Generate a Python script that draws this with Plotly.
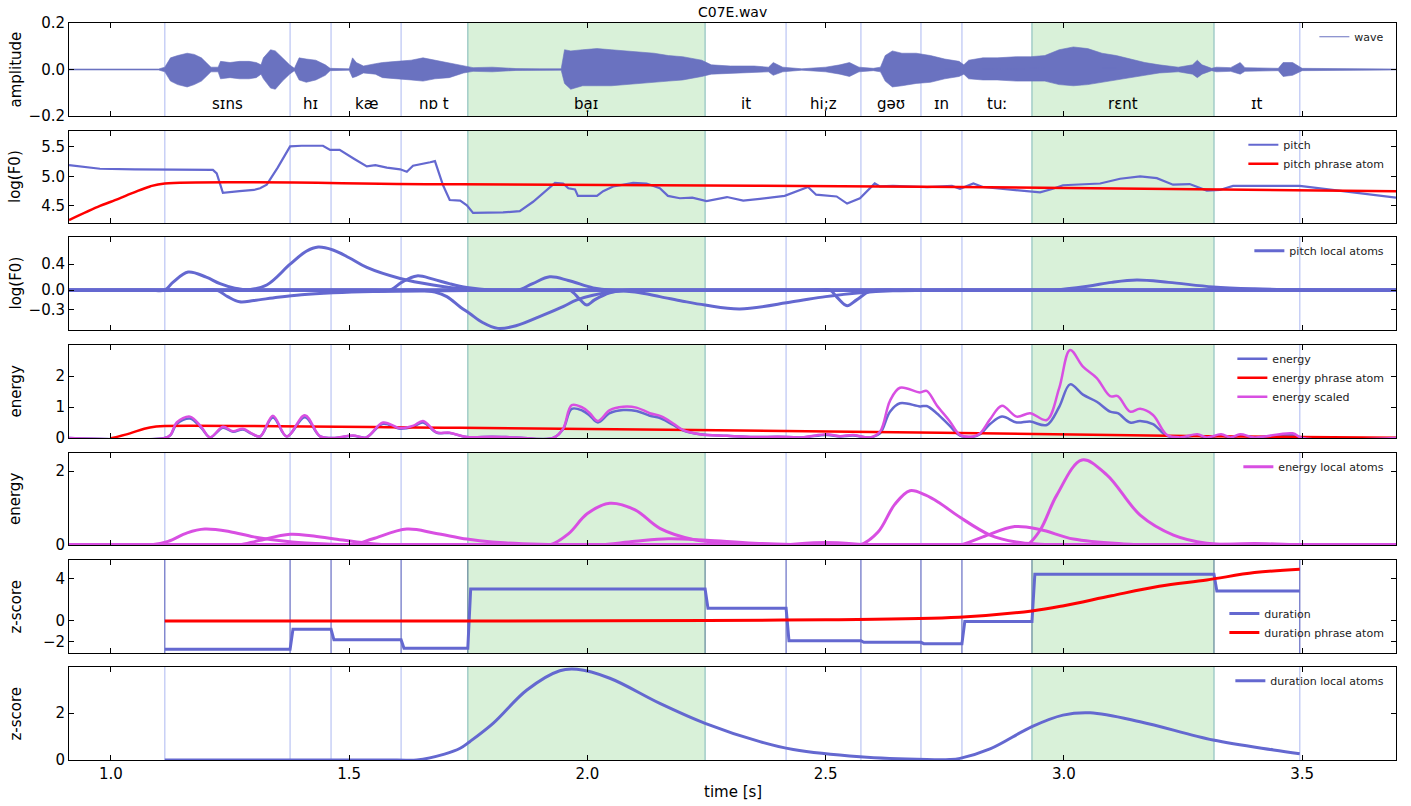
import plotly.graph_objects as go

# ---------------- data ----------------
X_MIN, X_MAX = 0.912, 3.697
bounds = [1.113, 1.376, 1.462, 1.609, 1.749, 2.247, 2.417, 2.574, 2.700, 2.786, 2.933, 3.315, 3.495]
words = ["sɪns", "hɪ", "kæ", "nɒ t", "bạɪ", "it", "hi;z", "gəʊ", "ɪn", "tuː", "rɛnt", "ɪt"]
prominent = [4, 10]

wave_t = [0.912, 1.10, 1.113, 1.125, 1.14, 1.16, 1.175, 1.19, 1.2, 1.21,
          1.225, 1.23, 1.25, 1.27, 1.29, 1.305, 1.315, 1.32, 1.335, 1.345,
          1.36, 1.375, 1.385, 1.395, 1.41, 1.43, 1.45, 1.46, 1.5, 1.507,
          1.515, 1.53, 1.555, 1.57, 1.6, 1.63, 1.655, 1.68, 1.71, 1.74,
          1.76, 1.8, 1.85, 1.9, 1.945, 1.952, 1.965, 1.99, 2.02, 2.05,
          2.08, 2.11, 2.14, 2.17, 2.2, 2.24, 2.26, 2.3, 2.35, 2.38,
          2.39, 2.41, 2.45, 2.5, 2.53, 2.55, 2.57, 2.6, 2.615, 2.625,
          2.64, 2.66, 2.69, 2.72, 2.75, 2.78, 2.79, 2.80, 2.83, 2.86,
          2.9, 2.93, 2.96, 2.99, 3.02, 3.05, 3.08, 3.11, 3.14, 3.17,
          3.2, 3.24, 3.27, 3.28, 3.29, 3.31, 3.32, 3.35, 3.37, 3.38,
          3.45, 3.46, 3.48, 3.50, 3.697]
wave_hi = [0.002, 0.002, 0.01, 0.05, 0.06, 0.07, 0.065, 0.05, 0.03, 0.01,
           0.01, 0.035, 0.03, 0.035, 0.035, 0.03, 0.02, 0.05, 0.085, 0.08,
           0.05, 0.02, 0.005, 0.05, 0.045, 0.04, 0.02, 0.005, 0.003, 0.05,
           0.03, 0.015, 0.025, 0.03, 0.035, 0.04, 0.05, 0.04, 0.03, 0.015,
           0.008, 0.01, 0.004, 0.003, 0.003, 0.085, 0.08, 0.085, 0.09, 0.085,
           0.08, 0.075, 0.07, 0.06, 0.055, 0.04, 0.02, 0.015, 0.015, 0.01,
           0.03, 0.01, 0.003, 0.01, 0.02, 0.03, 0.01, 0.005, 0.01, 0.06,
           0.08, 0.07, 0.07, 0.06, 0.045, 0.035, 0.02, 0.04, 0.05, 0.05,
           0.055, 0.055, 0.06, 0.085, 0.097, 0.09, 0.07, 0.06, 0.045, 0.03,
           0.02, 0.01, 0.02, 0.04, 0.02, 0.005, 0.01, 0.008, 0.03, 0.008,
           0.005, 0.03, 0.03, 0.005, 0.002]
wave_lo = [-0.002, -0.002, -0.01, -0.05, -0.065, -0.075, -0.065, -0.05, -0.03, -0.01,
           -0.01, -0.04, -0.035, -0.04, -0.04, -0.035, -0.02, -0.04, -0.08, -0.085,
           -0.05, -0.02, -0.005, -0.045, -0.055, -0.045, -0.025, -0.005, -0.003, -0.035,
           -0.03, -0.015, -0.02, -0.035, -0.04, -0.045, -0.05, -0.04, -0.035, -0.015,
           -0.008, -0.01, -0.004, -0.003, -0.003, -0.06, -0.085, -0.07, -0.07, -0.07,
           -0.065, -0.06, -0.055, -0.05, -0.045, -0.03, -0.02, -0.015, -0.012, -0.01,
           -0.025, -0.01, -0.003, -0.01, -0.02, -0.03, -0.01, -0.005, -0.01, -0.05,
           -0.075, -0.07, -0.06, -0.055, -0.04, -0.03, -0.02, -0.04, -0.045, -0.045,
           -0.05, -0.05, -0.05, -0.065, -0.07, -0.065, -0.055, -0.045, -0.035, -0.025,
           -0.015, -0.01, -0.02, -0.035, -0.02, -0.005, -0.01, -0.008, -0.02, -0.008,
           -0.005, -0.03, -0.025, -0.005, -0.002]

pitch_t = [0.912, 0.977, 1.05, 1.15, 1.2, 1.214, 1.222, 1.235, 1.27, 1.3,
           1.313, 1.327, 1.35, 1.376, 1.40, 1.445, 1.46, 1.48, 1.51, 1.537,
           1.555, 1.579, 1.607, 1.621, 1.634, 1.655, 1.67, 1.68, 1.697, 1.711,
           1.733, 1.747, 1.76, 1.823, 1.858, 1.886, 1.932, 1.949, 1.96, 1.974,
           1.98, 2.02, 2.033, 2.054, 2.096, 2.124, 2.152, 2.169, 2.194, 2.22,
           2.25, 2.293, 2.327, 2.362, 2.414, 2.463, 2.48, 2.523, 2.545, 2.572,
           2.603, 2.614, 2.641, 2.713, 2.765, 2.782, 2.81, 2.83, 2.95, 2.977,
           2.998, 3.076, 3.118, 3.16, 3.195, 3.229, 3.264, 3.30, 3.327, 3.355,
           3.495, 3.697]
pitch_v = [5.19, 5.13, 5.12, 5.12, 5.12, 5.11, 5.05, 4.72, 4.75, 4.77,
           4.80, 4.86, 5.15, 5.51, 5.52, 5.52, 5.45, 5.45, 5.30, 5.17,
           5.19, 5.15, 5.12, 5.08, 5.18, 5.21, 5.24, 5.26, 4.85, 4.60,
           4.59, 4.51, 4.38, 4.39, 4.41, 4.57, 4.89, 4.88, 4.80, 4.78,
           4.67, 4.67, 4.75, 4.83, 4.89, 4.88, 4.80, 4.67, 4.63, 4.64,
           4.58, 4.65, 4.59, 4.62, 4.67, 4.82, 4.69, 4.66, 4.54, 4.63,
           4.88, 4.83, 4.84, 4.82, 4.84, 4.79, 4.88, 4.82, 4.73, 4.79,
           4.85, 4.88, 4.96, 5.00, 4.97, 4.86, 4.87, 4.76, 4.77, 4.84,
           4.84, 4.64]
pphrase_t = [0.912, 0.977, 1.0, 1.046, 1.082, 1.113, 1.733, 2.782, 3.697]
pphrase_v = [4.26, 4.50, 4.57, 4.72, 4.83, 4.88, 4.865, 4.82, 4.75]

# pitch local atoms (each atom: times, values)
pa1_t = [X_MIN, 1.08, 1.113, 1.13, 1.162, 1.2, 1.229, 1.26, 1.298, 1.33, X_MAX]
pa1_v = [0, 0, 0, 0.12, 0.28, 0.2, 0.1, 0.03, 0, 0, 0]
pa2_t = [X_MIN, 1.19, 1.222, 1.245, 1.27, 1.3, 1.35, 1.4, 1.466, 1.55, 1.7, 1.85, 1.9, X_MAX]
pa2_v = [0, 0, 0, -0.1, -0.18, -0.16, -0.11, -0.07, -0.04, -0.02, -0.01, 0, 0, 0]
pa3_t = [X_MIN, 1.25, 1.285, 1.327, 1.376, 1.41, 1.435, 1.466, 1.5, 1.537, 1.607, 1.676, 1.747, 1.85, 1.9, X_MAX]
pa3_v = [0, 0, 0, 0.08, 0.4, 0.6, 0.665, 0.62, 0.5, 0.35, 0.18, 0.08, 0.015, 0, 0, 0]
pa4_t = [X_MIN, 1.55, 1.586, 1.61, 1.642, 1.676, 1.71, 1.747, 1.8, 1.85, X_MAX]
pa4_v = [0, 0, 0, 0.12, 0.22, 0.17, 0.1, 0.04, 0, 0, 0]
pa5_t = [X_MIN, 1.61, 1.648, 1.68, 1.705, 1.733, 1.753, 1.78, 1.812, 1.85, 1.907, 1.95, 1.978, 2.047, 2.1, 2.15, X_MAX]
pa5_v = [0, 0, 0, -0.03, -0.1, -0.26, -0.36, -0.5, -0.59, -0.55, -0.385, -0.25, -0.15, -0.03, 0, 0, 0]
pa6_t = [X_MIN, 1.82, 1.854, 1.885, 1.921, 1.96, 2.012, 2.05, 2.1, X_MAX]
pa6_v = [0, 0, 0, 0.1, 0.205, 0.15, 0.035, 0, 0, 0]
pa7_t = [X_MIN, 1.93, 1.963, 1.985, 1.999, 2.015, 2.047, 2.08, 2.12, X_MAX]
pa7_v = [0, 0, 0, -0.15, -0.23, -0.15, -0.04, 0, 0, 0]
pa8_t = [X_MIN, 2.0, 2.05, 2.1, 2.152, 2.2, 2.247, 2.32, 2.43, 2.5, 2.572, 2.641, 2.75, 2.8, X_MAX]
pa8_v = [0, 0, 0, -0.03, -0.1, -0.17, -0.23, -0.29, -0.18, -0.10, -0.04, -0.01, 0, 0, 0]
pa9_t = [X_MIN, 2.48, 2.509, 2.525, 2.545, 2.565, 2.593, 2.65, 2.7, X_MAX]
pa9_v = [0, 0, 0, -0.12, -0.24, -0.15, -0.02, 0, 0, 0]
pa10_t = [X_MIN, 2.94, 2.977, 3.05, 3.1, 3.153, 3.22, 3.313, 3.4, 3.5, 3.6, X_MAX]
pa10_v = [0, 0, 0, 0.06, 0.12, 0.155, 0.12, 0.05, 0.02, 0.005, 0, 0]

en_t = [0.912, 1.113, 1.125, 1.138, 1.166, 1.19, 1.208, 1.235, 1.256, 1.277,
        1.295, 1.313, 1.34, 1.369, 1.407, 1.439, 1.466, 1.508, 1.536, 1.571,
        1.607, 1.635, 1.655, 1.684, 1.711, 1.747, 1.8, 1.85, 1.928, 1.949,
        1.967, 1.99, 2.005, 2.022, 2.047, 2.075, 2.103, 2.131, 2.155, 2.18,
        2.2, 2.236, 2.293, 2.35, 2.4, 2.45, 2.502, 2.53, 2.557, 2.593,
        2.614, 2.635, 2.656, 2.698, 2.712, 2.733, 2.76, 2.782, 2.81, 2.824,
        2.845, 2.87, 2.901, 2.929, 2.964, 2.99, 3.013, 3.04, 3.069, 3.097,
        3.113, 3.139, 3.16, 3.187, 3.216, 3.243, 3.28, 3.3, 3.33, 3.35,
        3.37, 3.4, 3.48, 3.5, 3.697]
energy_v = [0, 0, 0.09, 0.45, 0.63, 0.32, 0.02, 0.33, 0.2, 0.27,
            0.14, 0.05, 0.66, 0.05, 0.67, 0.05, 0.0, 0.07, 0.02, 0.46,
            0.3, 0.37, 0.5, 0.17, 0.16, 0.03, 0.04, 0.02, 0.0, 0.28,
            0.94, 0.88, 0.72, 0.5, 0.8, 0.9, 0.87, 0.72, 0.63, 0.42,
            0.25, 0.12, 0.07, 0.03, 0.04, 0.02, 0.1, 0.05, 0.08, 0.02,
            0.15, 0.85, 1.12, 1.02, 1.03, 0.8, 0.4, 0.08, 0.04, 0.12,
            0.45, 0.69, 0.5, 0.53, 0.42, 1.0, 1.73, 1.4, 1.17, 0.85,
            0.8, 0.5, 0.55, 0.45, 0.07, 0.02, 0.08, 0.02, 0.08, 0.02,
            0.08, 0.02, 0.1, 0.0, 0.0]
escaled_v = [0, 0, 0.1, 0.5, 0.69, 0.35, 0.02, 0.36, 0.22, 0.3,
             0.15, 0.05, 0.72, 0.05, 0.73, 0.05, 0.0, 0.08, 0.02, 0.5,
             0.32, 0.4, 0.55, 0.18, 0.17, 0.03, 0.04, 0.02, 0.0, 0.3,
             1.06, 0.98, 0.8, 0.55, 0.9, 1.01, 0.98, 0.8, 0.7, 0.47,
             0.26, 0.12, 0.07, 0.03, 0.04, 0.02, 0.12, 0.06, 0.1, 0.02,
             0.2, 1.2, 1.62, 1.47, 1.52, 1.06, 0.55, 0.1, 0.05, 0.15,
             0.6, 1.04, 0.69, 0.8, 0.58, 1.6, 2.84, 2.3, 1.93, 1.35,
             1.35, 0.85, 0.94, 0.74, 0.1, 0.02, 0.12, 0.02, 0.12, 0.02,
             0.12, 0.02, 0.15, 0.0, 0.0]
ephrase_t = [1.0, 1.04, 1.07, 1.095, 1.113, 1.733, 2.74, 3.3, 3.697]
ephrase_v = [-0.01, 0.15, 0.3, 0.37, 0.39, 0.33, 0.17, 0.06, 0.01]

ea1_t = [X_MIN, 1.05, 1.082, 1.12, 1.16, 1.197, 1.25, 1.3, 1.38, 1.466, 1.52, 1.56, X_MAX]
ea1_v = [0, 0, 0, 0.1, 0.33, 0.43, 0.36, 0.22, 0.08, 0.02, 0, 0, 0]
ea2_t = [X_MIN, 1.24, 1.27, 1.31, 1.376, 1.42, 1.466, 1.537, 1.6, 1.64, X_MAX]
ea2_v = [0, 0, 0, 0.12, 0.29, 0.25, 0.17, 0.05, 0, 0, 0]
ea3_t = [X_MIN, 1.47, 1.508, 1.55, 1.621, 1.68, 1.747, 1.8, 1.9, 2.0, 2.05, X_MAX]
ea3_v = [0, 0, 0, 0.17, 0.43, 0.32, 0.16, 0.08, 0.02, 0, 0, 0]
ea4_t = [X_MIN, 1.89, 1.921, 1.96, 2.0, 2.047, 2.1, 2.152, 2.222, 2.3, 2.4, 2.5, X_MAX]
ea4_v = [0, 0, 0, 0.3, 0.85, 1.13, 0.95, 0.45, 0.15, 0.05, 0.01, 0, 0]
ea5_t = [X_MIN, 1.99, 2.026, 2.1, 2.17, 2.25, 2.35, 2.5, 2.55, X_MAX]
ea5_v = [0, 0, 0, 0.1, 0.17, 0.13, 0.05, 0, 0, 0]
ea6_t = [X_MIN, 2.36, 2.4, 2.5, 2.6, 2.64, X_MAX]
ea6_v = [0, 0, 0, 0.07, 0, 0, 0]
ea7_t = [X_MIN, 2.54, 2.572, 2.61, 2.645, 2.677, 2.71, 2.74, 2.782, 2.845, 2.9, 2.95, 3.02, X_MAX]
ea7_v = [0, 0, 0, 0.35, 1.1, 1.47, 1.35, 1.13, 0.75, 0.27, 0.08, 0.02, 0, 0]
ea8_t = [X_MIN, 2.75, 2.782, 2.83, 2.897, 2.95, 3.02, 3.125, 3.2, 3.25, X_MAX]
ea8_v = [0, 0, 0, 0.22, 0.5, 0.42, 0.16, 0.03, 0, 0, 0]
ea9_t = [X_MIN, 2.89, 2.922, 2.95, 2.985, 3.038, 3.09, 3.16, 3.23, 3.3, 3.4, 3.5, X_MAX]
ea9_v = [0, 0, 0, 0.4, 1.35, 2.3, 1.9, 0.81, 0.27, 0.05, 0.01, 0, 0]
ea10_t = [X_MIN, 3.26, 3.3, 3.4, 3.5, 3.55, X_MAX]
ea10_v = [0, 0, 0, 0.04, 0, 0, 0]

dur_z = [-2.7, -0.8, -1.8, -2.6, 3.05, 1.2, -1.88, -2.03, -2.16, -0.05, 4.45, 2.86]
dphrase_t = [1.113, 1.75, 2.25, 2.5, 2.78, 2.933, 3.0, 3.1, 3.2, 3.3, 3.4, 3.495]
dphrase_v = [0.0, 0.0, 0.05, 0.12, 0.35, 0.95, 1.45, 2.4, 3.3, 3.9, 4.6, 4.92]
dlocal_t = [1.113, 1.6, 1.642, 1.7, 1.733, 1.753, 1.802, 1.873, 1.942, 1.978, 2.047,
            2.152, 2.247, 2.362, 2.432, 2.572, 2.712, 2.76, 2.782, 2.845, 2.933,
            2.998, 3.055, 3.16, 3.313, 3.44, 3.495]
dlocal_v = [0, 0, 0, 0.25, 0.5, 0.78, 1.56, 2.98, 3.8, 3.86, 3.48,
            2.41, 1.56, 0.78, 0.45, 0.14, 0.02, 0.02, 0.07, 0.47, 1.42,
            1.91, 2.01, 1.63, 0.85, 0.43, 0.27]

x_ticks = [1.0, 1.5, 2.0, 2.5, 3.0, 3.5]
y_ranges = [[-0.2, 0.2], [4.21, 5.77], [-0.615, 0.82], [0, 3.0], [0, 2.49], [-3.05, 5.8], [0, 3.96]]
y_ticks = [[-0.2, 0.0, 0.2], [4.5, 5.0, 5.5], [-0.3, 0.0, 0.4], [0, 1, 2], [0, 2], [-2, 0, 4], [0, 2]]
y_ticktext = [["−0.2", "0.0", "0.2"], ["4.5", "5.0", "5.5"], ["−0.3", "0.0", "0.4"],
              ["0", "1", "2"], ["0", "2"], ["−2", "0", "4"], ["0", "2"]]
y_titles = ["amplitude", "log(F0)", "log(F0)", "energy", "energy", "z-score", "z-score"]

# ---------------- layout constants ----------------
W, H = 1411, 806
ML, MR, MT, MB = 69, 15, 23, 46
PH = H - MT - MB
panel_px = [(23, 116), (131, 223), (237, 330), (345, 438), (453, 545), (560, 653), (667, 760)]
domains = [[(760 - b) / PH, (760 - t) / PH] for t, b in panel_px]

BLUE = "#6468d0"
WAVE = "#6a72c0"
RED = "#ff0000"
MAG = "#d84fe2"
FONT = "DejaVu Sans"

fig = go.Figure()


def ax(n):
    return ("x", "y") if n == 1 else (f"x{n}", f"y{n}")


def lg(n):
    return "legend" if n == 1 else f"legend{n}"


def add(n, x, y, name, color, width, show=True, shape="linear", group=None, **kw):
    xa, ya = ax(n)
    fig.add_trace(go.Scatter(x=x, y=y, mode="lines", name=name, xaxis=xa, yaxis=ya,
                             line=dict(color=color, width=width, shape=shape),
                             showlegend=show, legend=lg(n), legendgroup=group or name,
                             hoverinfo="skip", **kw))


# panel 1: waveform envelope
xa, ya = ax(1)
fig.add_trace(go.Scatter(x=wave_t + wave_t[::-1], y=wave_hi + wave_lo[::-1], mode="lines",
                         fill="toself", fillcolor=WAVE, line=dict(color=WAVE, width=0.6),
                         xaxis=xa, yaxis=ya, showlegend=False, legendgroup="wave", hoverinfo="skip"))
add(1, wave_t, [(h + l) / 2 for h, l in zip(wave_hi, wave_lo)], "wave", WAVE, 1)

# panel 2
add(2, pitch_t, pitch_v, "pitch", BLUE, 2.2)
add(2, pphrase_t, pphrase_v, "pitch phrase atom", RED, 2.5, shape="spline")

# panel 3
patoms = [(pa1_t, pa1_v), (pa2_t, pa2_v), (pa3_t, pa3_v), (pa4_t, pa4_v), (pa5_t, pa5_v),
          (pa6_t, pa6_v), (pa7_t, pa7_v), (pa8_t, pa8_v), (pa9_t, pa9_v), (pa10_t, pa10_v)]
for i, (t, v) in enumerate(patoms):
    add(3, t, v, "pitch local atoms", BLUE, 3, show=(i == 0), shape="spline")

# panel 4
add(4, en_t, energy_v, "energy", BLUE, 2.5, shape="spline")
add(4, ephrase_t, ephrase_v, "energy phrase atom", RED, 2.5, shape="spline")
add(4, en_t, escaled_v, "energy scaled", MAG, 2.5, shape="spline")

# panel 5
eatoms = [(ea1_t, ea1_v), (ea2_t, ea2_v), (ea3_t, ea3_v), (ea4_t, ea4_v), (ea5_t, ea5_v),
          (ea6_t, ea6_v), (ea7_t, ea7_v), (ea8_t, ea8_v), (ea9_t, ea9_v), (ea10_t, ea10_v)]
for i, (t, v) in enumerate(eatoms):
    add(5, t, v, "energy local atoms", MAG, 3, show=(i == 0), shape="spline")

# panel 6: duration steps
dur_x, dur_y = [], []
for i, z in enumerate(dur_z):
    dur_x += [bounds[i] + (0.006 if i > 0 else 0.0), bounds[i + 1]]
    dur_y += [z, z]
add(6, dur_x, dur_y, "duration", BLUE, 3)
add(6, dphrase_t, dphrase_v, "duration phrase atom", RED, 3, shape="spline")

# panel 7
add(7, dlocal_t, dlocal_v, "duration local atoms", BLUE, 3, shape="spline")

# ---------------- shapes ----------------
shapes = []
for n in range(1, 8):
    xa, ya = ax(n)
    yref = f"{ya} domain"
    for k in prominent:
        shapes.append(dict(type="rect", xref=xa, yref=yref, x0=bounds[k], x1=bounds[k + 1],
                           y0=0, y1=1, fillcolor="rgba(0,160,0,0.15)", line=dict(width=0),
                           layer="below"))
    edges = set()
    for k in prominent:
        edges.add(bounds[k]); edges.add(bounds[k + 1])
    for b in bounds:
        if n == 6:
            col = "#6a8e9e" if b in edges else "rgba(88,96,190,0.85)"
            w = 1.3
        else:
            col = "#a2cdc8" if b in edges else "#c8d0f6"
            w = 1.5
        shapes.append(dict(type="line", xref=xa, yref=yref, x0=b, x1=b, y0=0, y1=1,
                           line=dict(color=col, width=w), layer="below"))

# ---------------- annotations ----------------
ann = []
for i, w in enumerate(words):
    ann.append(dict(x=(bounds[i] + bounds[i + 1]) / 2, y=-0.148, xref="x", yref="y", text=w,
                    showarrow=False, font=dict(size=15, family=FONT, color="black"),
                    xanchor="center", yanchor="middle"))
for n in range(1, 8):
    d = domains[n - 1]
    ann.append(dict(x=(15 - ML) / (W - ML - MR), y=(d[0] + d[1]) / 2, xref="paper", yref="paper",
                    text=y_titles[n - 1], textangle=-90, showarrow=False,
                    font=dict(size=15, family=FONT, color="black"), xanchor="center", yanchor="middle"))
ann.append(dict(x=0.5, y=(760 - 12) / PH, xref="paper", yref="paper", text="C07E.wav",
                showarrow=False, font=dict(size=14, family=FONT, color="black"),
                xanchor="center", yanchor="middle"))
ann.append(dict(x=0.5, y=(760 - 792) / PH, xref="paper", yref="paper", text="time [s]",
                showarrow=False, font=dict(size=15, family=FONT, color="black"),
                xanchor="center", yanchor="middle"))

layout = dict(width=W, height=H, margin=dict(l=ML, r=MR, t=MT, b=MB, pad=0),
              plot_bgcolor="white", paper_bgcolor="white",
              font=dict(family=FONT, size=15, color="black"),
              shapes=shapes, annotations=ann, showlegend=True)

for n in range(1, 8):
    xa, ya = ax(n)
    xkey = "xaxis" if n == 1 else f"xaxis{n}"
    ykey = "yaxis" if n == 1 else f"yaxis{n}"
    xd = dict(domain=[0, 1], range=[X_MIN, X_MAX], anchor=ya, tickvals=x_ticks,
              ticktext=[f"{v:.1f}" for v in x_ticks], showticklabels=(n == 7),
              ticks="inside", ticklen=5, tickcolor="black", showline=True, linecolor="black",
              linewidth=1, mirror="ticks", showgrid=False, zeroline=False,
              tickfont=dict(size=15, family=FONT))
    if n > 1:
        xd["matches"] = "x"
    layout[xkey] = xd
    layout[ykey] = dict(domain=domains[n - 1], range=y_ranges[n - 1], anchor=xa,
                        tickvals=y_ticks[n - 1], ticktext=y_ticktext[n - 1],
                        ticks="inside", ticklen=5, tickcolor="black", showline=True,
                        linecolor="black", linewidth=1, mirror="ticks", showgrid=False,
                        zeroline=False, tickfont=dict(size=15, family=FONT))
    if n == 6:
        legpos = dict(y=domains[n - 1][0] + 0.008, yanchor="bottom")
    else:
        legpos = dict(y=domains[n - 1][1] + 0.001, yanchor="top")
    layout[lg(n)] = dict(x=0.995, xanchor="right", bgcolor="rgba(0,0,0,0)",
                         font=dict(size=11, family=FONT, color="#222"),
                         itemwidth=30, tracegroupgap=0, **legpos)

fig.update_layout(**layout)
fig.write_html("out.html")
